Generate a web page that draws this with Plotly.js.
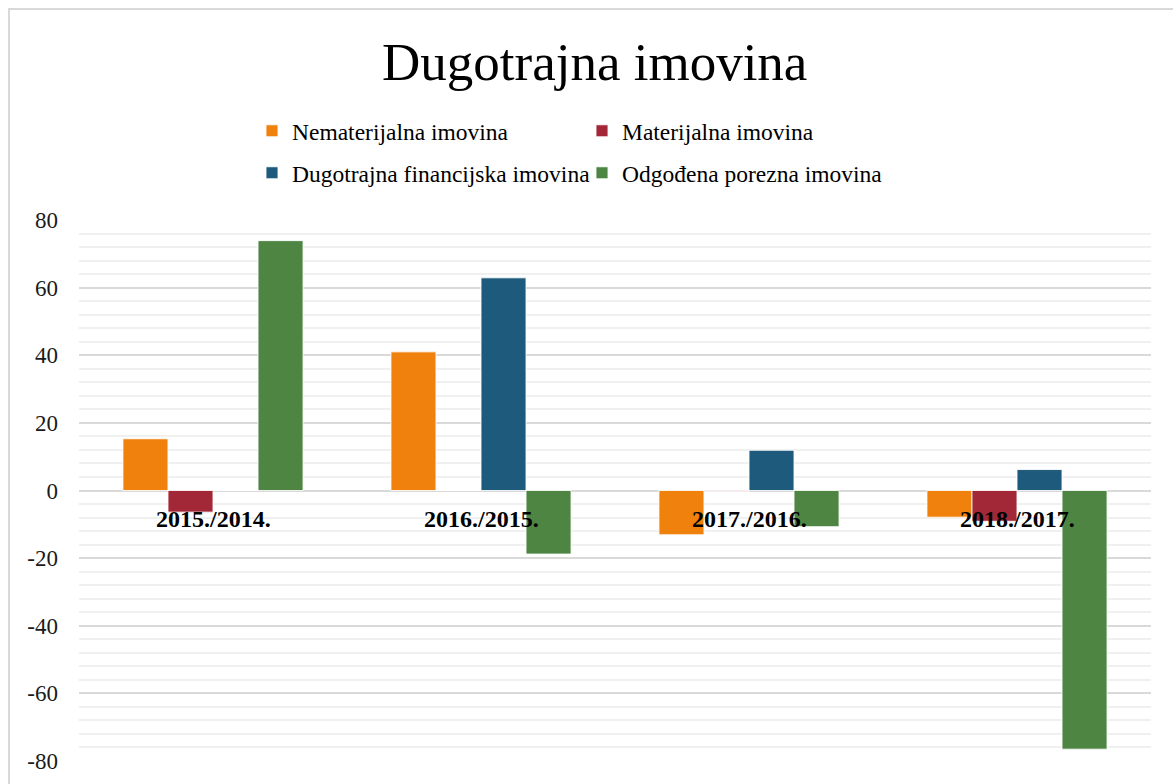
<!DOCTYPE html>
<html>
<head>
<meta charset="utf-8">
<script src="https://cdn.plot.ly/plotly-3.0.1.min.js"></script>
<style>
  html, body { margin:0; padding:0; background:#fff; overflow:hidden; }
  #chart { width:1173px; height:784px; }
  #frame { position:absolute; left:8px; top:8px; width:1200px; height:900px; border:2px solid #D9D9D9; pointer-events:none; box-sizing:border-box; }
</style>
</head>
<body>
<div id="chart"></div>
<div id="frame"></div>
<script>
const categories = ["2015./2014.", "2016./2015.", "2017./2016.", "2018./2017."];
const seriesNames = ["Nematerijalna imovina", "Materijalna imovina", "Dugotrajna financijska imovina", "Odgođena porezna imovina"];
const nematerijalna = [15.3, 41.0, -13.1, -7.9];
const materijalna = [-6.4, 0.0, -0.3, -9.1];
const financijska = [0.0, 62.9, 11.9, 6.2];
const odgodena = [73.9, -18.8, -10.7, -76.5];
const yTickVals = [80, 60, 40, 20, 0, -20, -40, -60, -80];
const yTickText = ["80", "60", "40", "20", "0", "-20", "-40", "-60", "-80"];
const colors = ["#EF810C", "#A22837", "#1E5A7C", "#4E8542"];

const FONT = "Liberation Serif, Times New Roman, serif";
const values = [nematerijalna, materijalna, financijska, odgodena];
const legendFor = ["legend", "legend", "legend2", "legend2"];

const traces = values.map((v, i) => ({
  type: "bar",
  name: seriesNames[i],
  x: categories,
  y: v,
  legend: legendFor[i],
  marker: { color: colors[i], line: { color: "rgba(255,255,255,0.85)", width: 1 } },
  hoverinfo: "name+y"
}));

const annotations = categories.map(c => ({
  x: c, y: 0, xref: "x", yref: "y",
  text: "<b>" + c + "</b>",
  showarrow: false,
  yanchor: "middle", xanchor: "center",
  yshift: -28,
  font: { family: FONT, size: 24, color: "#000" }
}));

const legendBase = {
  orientation: "h", xref: "container", yref: "container",
  x: 252 / 1173, xanchor: "left", yanchor: "middle",
  entrywidth: 285, entrywidthmode: "pixels",
  font: { family: FONT, size: 23.5, color: "#000" },
  bgcolor: "rgba(0,0,0,0)", traceorder: "normal"
};

const layout = {
  width: 1173, height: 784,
  paper_bgcolor: "#fff", plot_bgcolor: "#fff",
  margin: { l: 79, r: 22, t: 220, b: 23, pad: 0 },
  font: { family: FONT, color: "#1a1a1a" },
  title: {
    text: "Dugotrajna imovina",
    font: { family: FONT, size: 53, color: "#000" },
    x: 0.507, xref: "container", xanchor: "center",
    y: 1 - 61 / 784, yref: "container", yanchor: "middle"
  },
  barmode: "group",
  bargap: 0.328,
  bargroupgap: 0,
  showlegend: true,
  legend: Object.assign({}, legendBase, { y: 1 - 131 / 784 }),
  legend2: Object.assign({}, legendBase, { y: 1 - 173 / 784 }),
  xaxis: {
    type: "category",
    showticklabels: false, showgrid: false, zeroline: false, showline: false, ticks: ""
  },
  yaxis: {
    range: [-80, 80],
    tickmode: "array", tickvals: yTickVals, ticktext: yTickText,
    tickfont: { family: FONT, size: 23, color: "#1a1a1a" },
    ticks: "", ticklabelstandoff: 20,
    showgrid: true, gridcolor: "#D9D9D9", gridwidth: 2,
    zeroline: true, zerolinecolor: "#D9D9D9", zerolinewidth: 2,
    showline: false,
    minor: { tickmode: "linear", tick0: 0, dtick: 4, showgrid: true, gridcolor: "#F0F0F0", gridwidth: 2, ticks: "" }
  },
  annotations: annotations
};

Plotly.newPlot("chart", traces, layout, { displayModeBar: false, staticPlot: true });
</script>
</body>
</html>
